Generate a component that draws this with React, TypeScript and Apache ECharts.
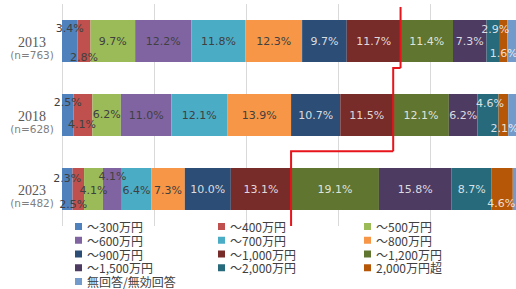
import React, { useEffect, useRef } from 'react';
import * as echarts from 'echarts';

// ---- data ----
const years = ['2013', '2018', '2023'];
const sampleSizes = ['763', '628', '482'];
const bandNames = [
  '～300万円', '～400万円', '～500万円', '～600万円', '～700万円', '～800万円',
  '～900万円', '～1,000万円', '～1,200万円', '～1,500万円', '～2,000万円', '2,000万円超',
  '無回答/無効回答',
];
const share2013 = [3.4, 2.8, 9.7, 12.2, 11.8, 12.3, 9.7, 11.7, 11.4, 7.3, 2.9, 1.6, 3.2];
const share2018 = [2.5, 4.1, 6.2, 11.0, 12.1, 13.9, 10.7, 11.5, 12.1, 6.2, 4.6, 2.1, 3.0];
const share2023 = [2.3, 2.5, 4.1, 4.1, 6.4, 7.3, 10.0, 13.1, 19.1, 15.8, 8.7, 4.6, 2.0];
const shares = [share2013, share2018, share2023];
const bandsUpTo1000 = 8; // ～300万円 … ～1,000万円

// ---- style ----
const bandColors = [
  '#4F81BD', '#C0504D', '#9BBB59', '#8064A2', '#4BACC6', '#F79646',
  '#2C4D75', '#772C2A', '#5F7530', '#4D3B62', '#276A7C', '#B65708', '#729ACA',
];
const darkBand = [false, false, false, false, false, false, true, true, true, true, true, true, false];
const showBandLabel = [true, true, true, true, true, true, true, true, true, true, true, true, false];
// label nudges [dx, dy] per year per band (small segments are moved off-centre)
const labelNudge: number[][][] = [
  [[0, -13], [0, 16], [0, 0], [0, 0], [0, 0], [0, 0], [0, 0], [0, 0], [0, 0], [0, 0], [2, -12], [0, 12], [0, 0]],
  [[0, -13], [-1, 9], [0, -1], [0, 0], [0, 0], [0, 0], [0, 0], [0, 0], [0, 0], [0, 0], [2, -12], [1, 13], [0, 0]],
  [[0, -11], [-5, 15], [0, 1], [0, -13], [0, 1], [0, 1], [0, 0], [0, 0], [0, 0], [0, 0], [0, 0], [-1, 14], [0, 0]],
];
const legendColumns = [
  [0, 3, 6, 9, 12],
  [1, 4, 7, 10],
  [2, 5, 8, 11],
];
const legendLeft = [75, 218, 364];

export default function App() {
  const ref = useRef<HTMLDivElement>(null);

  useEffect(() => {
    if (!ref.current) return;
    const chart = echarts.init(ref.current, undefined, { renderer: 'svg' });

    const cum1000 = shares.map((s) => s.slice(0, bandsUpTo1000).reduce((a, b) => a + b, 0));
    const stepFrac = [0.365, 0.49];

    const barSeries = bandNames.map((name, i) => ({
      name,
      type: 'bar',
      stack: 'total',
      barWidth: 42,
      itemStyle: { color: bandColors[i] },
      label: {
        show: showBandLabel[i],
        position: 'inside',
        fontFamily: 'DejaVu Sans',
        fontSize: 11,
        color: darkBand[i] ? 'rgba(255,255,255,0.82)' : '#404040',
        formatter: (p: any) => `${Number(p.value).toFixed(1)}%`,
      },
      emphasis: { disabled: true },
      data: years.map((_, j) => ({
        value: shares[j][i],
        label: { offset: labelNudge[j][i] },
      })),
    }));

    const stepSeries = {
      type: 'custom',
      name: 'threshold',
      coordinateSystem: 'cartesian2d',
      silent: true,
      z: 10,
      data: years.map((_, j) => [cum1000[j], j]),
      renderItem: (params: any, api: any) => {
        const j = params.dataIndex;
        const last = years.length - 1;
        const band = api.size([0, 1])[1];
        const cy = (k: number) => api.coord([0, k])[1];
        const stepY = (k: number) => cy(k) + stepFrac[k] * (cy(k + 1) - cy(k));
        const x = api.coord([cum1000[j], j])[0];
        const top = j === 0 ? cy(0) - 0.46 * band : stepY(j - 1);
        const bottom = j === last ? cy(last) + 0.5 * band : stepY(j);
        const points: number[][] = [];
        if (j > 0) {
          const xPrev = api.coord([cum1000[j - 1], j - 1])[0];
          points.push([xPrev, top]);
        }
        points.push([x, top], [x, bottom]);
        return {
          type: 'polyline',
          shape: { points },
          style: { stroke: '#E8141B', lineWidth: 2, fill: null },
        };
      },
    };

    const legends = legendColumns.map((col, c) => ({
      orient: 'vertical',
      left: legendLeft[c],
      top: 220,
      padding: 0,
      itemGap: 0.75,
      itemWidth: 7,
      itemHeight: 7,
      icon: 'rect',
      selectedMode: false,
      data: col.map((i) => bandNames[i]),
      textStyle: {
        fontFamily: 'Noto Sans CJK JP',
        fontSize: 12,
        lineHeight: 13,
        color: '#404040',
      },
    }));

    chart.setOption({
      animation: false,
      backgroundColor: '#ffffff',
      grid: { left: 62, top: 4, width: 460, height: 222, outerBoundsMode: 'none' },
      legend: legends,
      xAxis: {
        type: 'value',
        min: 0,
        max: 100,
        interval: 20,
        axisLabel: { show: false },
        axisLine: { show: false },
        axisTick: { show: false },
        splitLine: { show: true, lineStyle: { color: '#D9D9D9', width: 1 } },
      },
      yAxis: {
        type: 'category',
        inverse: true,
        data: years,
        axisLine: { show: false },
        axisTick: { show: false },
        axisLabel: {
          margin: 30,
          align: 'center',
          padding: [14, 0, 0, 0],
          formatter: (v: string) => {
            const j = years.indexOf(v);
            return `{y|${v}}\n{n|(n=${sampleSizes[j]})}`;
          },
          rich: {
            y: {
              fontFamily: 'Liberation Serif',
              fontSize: 14,
              lineHeight: 14,
              color: '#595959',
              align: 'center',
            },
            n: {
              fontFamily: 'DejaVu Sans',
              fontSize: 10.5,
              lineHeight: 12,
              color: '#7F7F7F',
              align: 'center',
            },
          },
        },
      },
      series: [...barSeries, stepSeries],
    } as any);

    return () => chart.dispose();
  }, []);

  return (
    <div
      ref={ref}
      style={{ position: 'fixed', left: 0, top: 0, width: 516, height: 289, background: '#fff' }}
    />
  );
}
